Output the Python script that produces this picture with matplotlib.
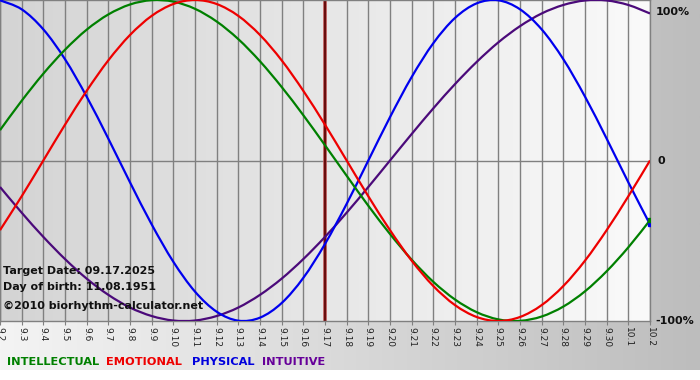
import matplotlib
matplotlib.use('Agg')
import matplotlib.pyplot as plt
import numpy as np
from matplotlib.colors import LinearSegmentedColormap
from matplotlib.path import Path
from matplotlib.patches import PathPatch

dates = ["9.2", "9.3", "9.4", "9.5", "9.6", "9.7", "9.8", "9.9", "9.10", "9.11",
         "9.12", "9.13", "9.14", "9.15", "9.16", "9.17", "9.18", "9.19", "9.20",
         "9.21", "9.22", "9.23", "9.24", "9.25", "9.26", "9.27", "9.28", "9.29",
         "9.30", "10.1", "10.2"]

intellectual = [0.189, 0.372, 0.541, 0.690, 0.815, 0.910, 0.972, 0.999, 0.990, 0.945,
                0.866, 0.756, 0.618, 0.458, 0.282, 0.095, -0.095, -0.282, -0.458,
                -0.618, -0.756, -0.866, -0.945, -0.990, -0.999, -0.972, -0.910,
                -0.815, -0.690, -0.541, -0.372]
emotional = [-0.434, -0.223, 0.0, 0.223, 0.434, 0.624, 0.782, 0.901, 0.975, 1.0,
             0.975, 0.901, 0.782, 0.624, 0.434, 0.223, 0.0, -0.223, -0.434, -0.624,
             -0.782, -0.901, -0.975, -1.0, -0.975, -0.901, -0.782, -0.624, -0.434,
             -0.223, 0.0]
physical = [0.998, 0.942, 0.817, 0.631, 0.398, 0.136, -0.136, -0.398, -0.631, -0.817,
            -0.942, -0.998, -0.979, -0.888, -0.731, -0.520, -0.270, 0.0, 0.270, 0.520,
            0.731, 0.888, 0.979, 0.998, 0.942, 0.817, 0.631, 0.398, 0.136, -0.136,
            -0.398]
intuitive = [-0.165, -0.325, -0.476, -0.614, -0.736, -0.837, -0.916, -0.969, -0.997,
             -0.997, -0.969, -0.916, -0.837, -0.736, -0.614, -0.476, -0.325, -0.165,
             0.0, 0.165, 0.325, 0.476, 0.614, 0.736, 0.837, 0.916, 0.969, 0.997,
             0.997, 0.969, 0.916]

target_date = "9.17"
y_labels = ["100%", "0", "-100%"]
info_lines = ["Target Date: 09.17.2025", "Day of birth: 11.08.1951",
              "\u00a92010 biorhythm-calculator.net"]
series_names = ["INTELLECTUAL", "EMOTIONAL", "PHYSICAL", "INTUITIVE"]
series_colors = ["#008000", "#ee0000", "#0000ee", "#4b0a7a"]
legend_colors = ["#008000", "#ee0000", "#0000dd", "#660099"]

W, H = 700, 380
fig = plt.figure(figsize=(7, 3.8), dpi=100, facecolor='white')

# background gradient panel
bg = fig.add_axes([0, 0, 1, 1])
bg.set_axis_off()
bg.set_xlim(0, 1)
bg.set_ylim(0, 1)
cmap_bg = LinearSegmentedColormap.from_list('bg', ['#f4f4f4', '#bdbdbd'])
bg.imshow(np.linspace(0, 1, 256)[None, :], cmap=cmap_bg, aspect='auto',
          extent=[0, 1, 10 / H, 1], zorder=0)

# main plot
ax = fig.add_axes([0, 59 / H, 650 / W, 321 / H])
x = np.arange(len(dates))
cmap_pl = LinearSegmentedColormap.from_list('pl', ['#d4d4d4', '#fafafa'])
ax.imshow(np.linspace(0, 1, 256)[None, :], cmap=cmap_pl, aspect='auto',
          extent=[0, len(dates) - 1, -1, 1], zorder=0)
ax.set_xlim(0, len(dates) - 1)
ax.set_ylim(-1, 1)
ax.set_aspect('auto')

for s in ax.spines.values():
    s.set_color('#808080')
    s.set_linewidth(1)

ax.set_xticks(x)
ax.set_xticklabels(dates, rotation=270, fontsize=6.5, color='#222222')
ax.tick_params(axis='x', length=3, color='#808080', pad=1.5)
ax.set_yticks([])
ax.grid(axis='x', color='#808080', lw=1, zorder=1)
ax.set_axisbelow(True)
ax.axhline(0, color='#808080', lw=1, zorder=1)

ti = dates.index(target_date)
ax.axvline(ti, color='#b85050', lw=2.6, zorder=2)
ax.axvline(ti, color='#5a0000', lw=1.2, zorder=2.1)


def smooth_path(xs, ys):
    P = np.column_stack([xs, ys]).astype(float)
    n = len(P)
    verts = [P[0]]
    codes = [Path.MOVETO]
    for i in range(n - 1):
        p0 = P[i - 1] if i > 0 else P[i]
        p1 = P[i]
        p2 = P[i + 1]
        p3 = P[i + 2] if i + 2 < n else P[i + 1]
        verts += [p1 + (p2 - p0) / 6.0, p2 - (p3 - p1) / 6.0, p2]
        codes += [Path.CURVE4] * 3
    return Path(verts, codes)


for vals, col, z in [(intuitive, series_colors[3], 3), (physical, series_colors[2], 4),
                     (intellectual, series_colors[0], 5), (emotional, series_colors[1], 6)]:
    ax.add_patch(PathPatch(smooth_path(x, vals), fill=False, edgecolor=col,
                           lw=1.6, zorder=z, capstyle='butt'))
ax.plot([x[-1]], [physical[-1]], marker='s', ms=2.5, color=series_colors[2], zorder=7)
ax.plot([x[-1]], [intellectual[-1]], marker='s', ms=2.5, color=series_colors[0], zorder=7)

# right-side labels
for lab, ypx, xpx in zip(y_labels, [12, 161, 321], [656, 657, 655]):
    fig.text(xpx / W, 1 - ypx / H, lab, fontsize=8, fontweight='bold',
             color='#111111', va='center', ha='left')

# info text
for lab, ypx in zip(info_lines, [271, 287, 306]):
    fig.text(3 / W, 1 - ypx / H, lab, fontsize=8, fontweight='bold',
             color='#111111', va='center', ha='left', zorder=10)

# legend words
for lab, col, xpx in zip(series_names, legend_colors, [7, 106, 192, 262]):
    fig.text(xpx / W, 1 - 362 / H, lab, fontsize=8.2, fontweight='bold',
             color=col, va='center', ha='left')

fig.savefig('out.png', dpi=100, facecolor=fig.get_facecolor())
